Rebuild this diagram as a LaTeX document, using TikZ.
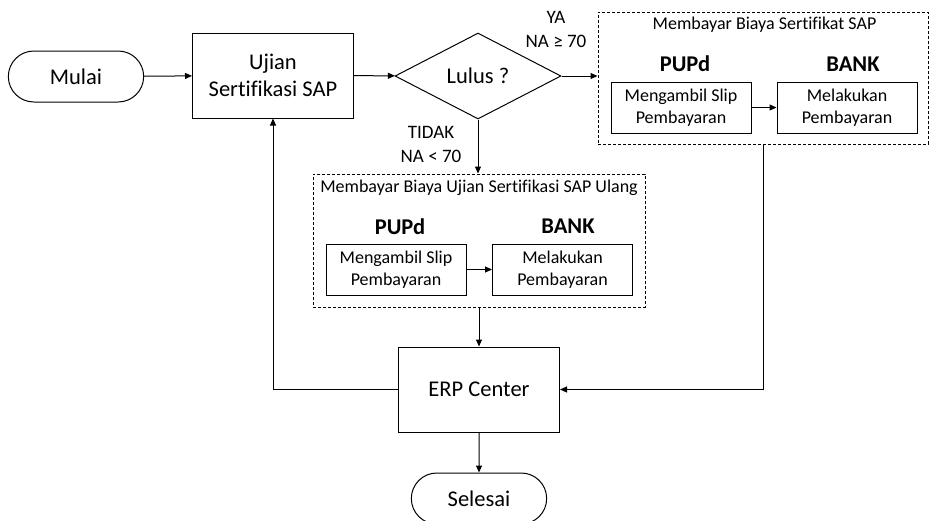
\documentclass[tikz,border=0pt]{standalone}
\usepackage{fontspec}
\setmainfont{Carlito}[Ligatures=NoCommon]
\usetikzlibrary{arrows.meta,
    positioning,
    shapes.geometric,
    shapes.misc}

\tikzset{
    terminal/.style={rounded rectangle, draw, minimum width=142pt, minimum height=51pt,
        font=\fontsize{22.5}{27}\selectfont},
    process/.style={rectangle, draw, minimum width=161pt, minimum height=85pt, align=center,
        font=\fontsize{22.5}{27}\selectfont},
    decision/.style={diamond, draw, aspect=1.93, inner sep=0pt, minimum width=166pt,
        minimum height=86pt, font=\fontsize{22.5}{27}\selectfont},
    subbox/.style={rectangle, draw, minimum width=140pt, minimum height=51pt, align=center,
        font=\fontsize{18}{22}\selectfont},
    paygroup/.style={rectangle, draw, dash pattern=on 3pt off 2pt},
    grouptitle/.style={font=\fontsize{18}{22}\selectfont},
    role/.style={font=\bfseries\fontsize{22.5}{27}\selectfont},
    cond/.style={align=center, font=\fontsize{19}{24}\selectfont},
    arr/.style={-{Triangle[length=7pt,width=6pt]}}
}

\begin{document}
\begin{tikzpicture}[x=1pt, y=-1pt, line width=1pt]
    \useasboundingbox (0,0) rectangle (933,520);
    % main flow
    \node[terminal] (mulai) at (76,76.5) {Mulai};
    \node[process] (ujian) at (273,75.5) {Ujian\\Sertifikasi SAP};
    \node[decision] (lulus) at (478,76) {Lulus ?};
    \node[process] (erp) at (479,389.5) {ERP Center};
    \node[terminal] (selesai) at (479,498.5) {Selesai};
    % lulus: bayar sertifikat
    \node[paygroup, minimum width=330pt, minimum height=132pt] (payTop) at (763,78) {};
    \node[grouptitle] (topTitle) at (764.5,25) {Membayar Biaya Sertifikat SAP};
    \node[role] (topPUPd) at (685,64) {PUPd};
    \node[role] (topBANK) at (853,64) {BANK};
    \node[subbox] (topSlip) at (681,107.5) {Mengambil Slip\\Pembayaran};
    \node[subbox] (topBayar) at (847,107.5) {Melakukan\\Pembayaran};
    % tidak lulus: bayar ujian ulang
    \node[paygroup, minimum width=332pt, minimum height=133pt] (payBot) at (479,240.5) {};
    \node[grouptitle] (botTitle) at (479,188) {Membayar Biaya Ujian Sertifikasi SAP Ulang};
    \node[role] (botPUPd) at (400,226.5) {PUPd};
    \node[role] (botBANK) at (568,226.5) {BANK};
    \node[subbox] (botSlip) at (396,269.5) {Mengambil Slip\\Pembayaran};
    \node[subbox] (botBayar) at (562.5,269.5) {Melakukan\\Pembayaran};
    % labels
    \node[cond] (ya) at (556,29) {YA\\NA ≥ 70};
    \node[cond] (tidak) at (431,144) {TIDAK\\NA < 70};
    % arrows
    \draw[arr] (mulai) -- (ujian);
    \draw[arr] (ujian) -- (lulus);
    \draw[arr] (lulus.east) -- (lulus.east -| payTop.west);
    \draw[arr] (topSlip) -- (topBayar);
    \draw[arr] (lulus.south) -- (lulus.south |- payBot.north);
    \draw[arr] (botSlip) -- (botBayar);
    \draw[arr] (payBot.south) -- (erp.north);
    \draw[arr] (erp) -- (selesai);
    \draw[arr] (erp.west) -| (ujian.south);
    \draw[arr] (payTop.south) |- (erp.east);
\end{tikzpicture}
\end{document}
